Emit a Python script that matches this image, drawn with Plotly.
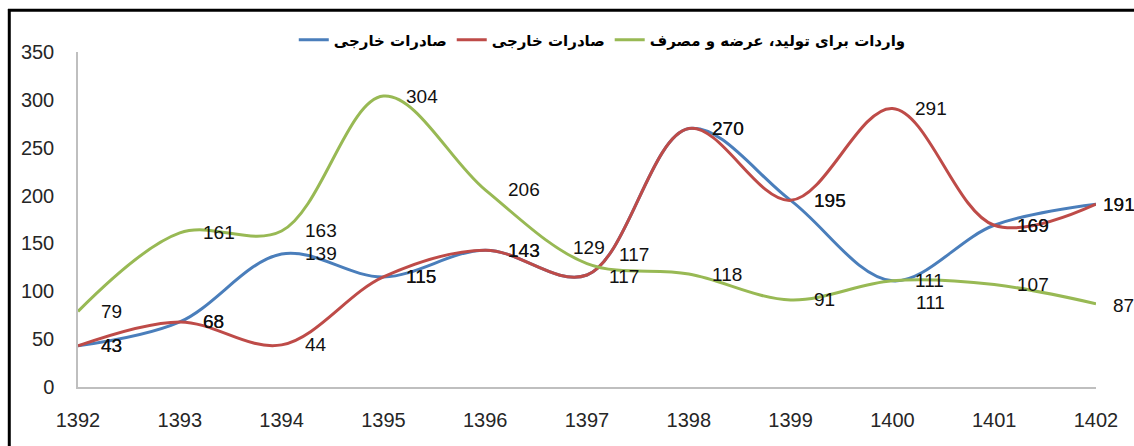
import plotly.graph_objects as go

years = [1392, 1393, 1394, 1395, 1396, 1397, 1398, 1399, 1400, 1401, 1402]
blue_vals = [43, 68, 139, 115, 143, 117, 270, 195, 111, 169, 191]
red_vals = [43, 68, 44, 115, 143, 117, 270, 195, 291, 169, 191]
green_vals = [79, 161, 163, 304, 206, 129, 118, 91, 111, 107, 87]
y_ticks = [0, 50, 100, 150, 200, 250, 300, 350]

name_blue = "صادرات خارجی"
name_red = "صادرات خارجی"
name_green = "واردات برای تولید، عرضه و مصرف"

C_BLUE = "#4A7EBB"
C_RED = "#BE4B48"
C_GREEN = "#98B954"

fig = go.Figure()
for vals, col, nm in [(blue_vals, C_BLUE, name_blue), (red_vals, C_RED, name_red), (green_vals, C_GREEN, name_green)]:
    fig.add_trace(go.Scatter(x=years, y=vals, mode="lines", name=nm,
                             line=dict(color=col, width=3, shape="spline", smoothing=1.0)))

# label offsets (styling): default right of point
special = {
    ("g", 5): dict(xshift=2, yshift=16, xanchor="center"),
    ("r", 5): dict(xshift=30, yshift=21, xanchor="left"),
    ("b", 5): dict(xshift=20, yshift=-1, xanchor="left"),
    ("b", 8): dict(xshift=22, yshift=-22, xanchor="left"),
    ("b", 10): dict(xshift=5, yshift=0, xanchor="left"),
    ("r", 10): dict(xshift=5, yshift=0, xanchor="left"),
    ("g", 10): dict(xshift=15, yshift=-2, xanchor="left"),
}
annots = []
for key, vals in [("b", blue_vals), ("r", red_vals), ("g", green_vals)]:
    for i, (x, v) in enumerate(zip(years, vals)):
        o = special.get((key, i), dict(xshift=21, yshift=0, xanchor="left"))
        annots.append(dict(x=x, y=v, xref="x", yref="y", text=str(v), showarrow=False,
                           xanchor=o["xanchor"], yanchor="middle",
                           xshift=o["xshift"], yshift=o["yshift"],
                           font=dict(family="Liberation Sans, Arial", size=19, color="#111")))

fig.update_layout(
    width=1134, height=446,
    margin=dict(l=78, r=38, t=52, b=59),
    paper_bgcolor="white", plot_bgcolor="white",
    showlegend=True,
    legend=dict(orientation="h", x=0.515, xanchor="center", y=1.036, yanchor="middle",
                font=dict(family="DejaVu Sans", size=15, color="#000", weight="bold"),
                bgcolor="rgba(0,0,0,0)", traceorder="normal"),
    annotations=annots,
    shapes=[
        dict(type="line", xref="paper", yref="paper", x0=-0.0688, x1=1.05, y0=1.125, y1=1.125,
             line=dict(color="black", width=3)),
        dict(type="line", xref="paper", yref="paper", x0=-0.0675, x1=-0.0675, y0=1.128, y1=-0.2,
             line=dict(color="black", width=3)),
    ],
)
fig.update_xaxes(range=[1392, 1402], tickvals=years, ticktext=[str(y) for y in years],
                 showgrid=False, zeroline=False, showline=True, linecolor="#BFBFBF", linewidth=1.5,
                 ticks="", ticklabelstandoff=14,
                 tickfont=dict(family="Liberation Sans, Arial", size=20, color="#262626"))
fig.update_yaxes(range=[0, 350], tickvals=y_ticks, showgrid=False, zeroline=False,
                 showline=True, linecolor="#BFBFBF", linewidth=1.5, ticks="", ticklabelstandoff=18,
                 tickfont=dict(family="Liberation Sans, Arial", size=20, color="#262626"))

fig.write_html("out.html", config={"displayModeBar": False},
               post_script="document.body.style.margin='0px';document.body.style.overflow='hidden';")
